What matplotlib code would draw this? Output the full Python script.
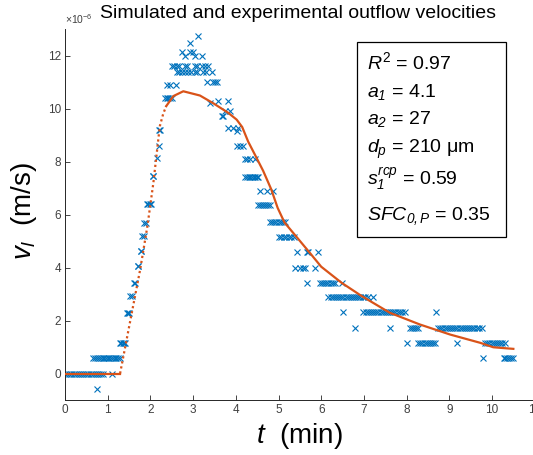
import numpy as np
import matplotlib
matplotlib.use('Agg')
import matplotlib.pyplot as plt
from matplotlib.patches import Rectangle

plt.rcParams['font.family'] = ['Liberation Sans', 'DejaVu Sans']
plt.rcParams['mathtext.fontset'] = 'custom'
plt.rcParams['mathtext.rm'] = 'Liberation Sans'
plt.rcParams['mathtext.it'] = 'Liberation Sans:italic'
plt.rcParams['mathtext.sf'] = 'Liberation Sans:italic'

# simulated outflow velocity (t in min, v in 1e-6 m/s)
t_sim = [0.0, 1.29, 1.52, 1.76, 1.93, 2.07, 2.15, 2.22, 2.30, 2.37, 2.54, 2.77,
         3.16, 3.47, 3.82, 4.02, 4.15, 4.29, 4.45, 4.64, 4.83, 4.98, 5.14, 5.43,
         5.72, 6.00, 6.48, 6.95, 7.61, 8.31, 9.02, 9.72, 10.03, 10.50]
v_sim = [0.0, 0.0, 1.92, 3.92, 5.56, 7.2, 8.33, 9.33, 9.8, 10.09, 10.47, 10.65,
         10.49, 10.2, 9.84, 9.58, 9.3, 8.75, 8.25, 7.65, 6.95, 6.25, 5.7, 5.14,
         4.58, 4.03, 3.42, 2.92, 2.29, 1.85, 1.47, 1.16, 0.99, 0.93]
i_dot0, i_dot1 = 1, 9   # steep part drawn as sparse dots

# experimental points, one list of times per measured level
exp_levels = [0.0, -0.58, 0.58, 1.16, 2.29, 2.92, 3.42, 4.05, 4.62, 5.18, 5.69,
              6.38, 7.45, 8.14, 8.6, 9.2, 10.4, 10.9, 11.37, 11.62, 12.0, 12.12,
              12.48, 12.75, 11.0, 10.28, 10.19, 9.9, 9.7, 9.25, 9.14, 8.6, 8.1,
              7.4, 6.9, 6.34, 5.7, 5.14, 4.6, 4.0, 3.42, 2.9, 2.31, 1.72, 1.16, 0.58]
exp_times = [
    [0.00, 0.05, 0.10, 0.15, 0.20, 0.25, 0.30, 0.35, 0.40, 0.45, 0.50, 0.55,
     0.60, 0.65, 0.70, 0.75, 0.80, 0.85, 0.90, 1.09],
    [0.74],
    [0.66, 0.71, 0.76, 0.80, 0.84, 0.88, 0.92, 0.96, 1.00, 1.04, 1.08, 1.12,
     1.16, 1.20, 1.24, 1.28],
    [1.29, 1.32, 1.35, 1.38, 1.41],
    [1.45, 1.48, 1.51],
    [1.53, 1.56],
    [1.62, 1.65],
    [1.70, 1.72],
    [1.77, 1.79],
    [1.80, 1.84],
    [1.86, 1.89],
    [1.92, 1.95, 1.98, 2.01],
    [2.05, 2.07],
    [2.15],
    [2.20],
    [2.19, 2.23],
    [2.34, 2.38, 2.42, 2.46, 2.50],
    [2.38, 2.46, 2.61],
    [2.62, 2.67, 2.73, 2.80, 2.89, 2.96, 3.04, 3.10, 3.24, 3.30, 3.44],
    [2.50, 2.55, 2.62, 2.66, 2.81, 2.86, 3.04, 3.10, 3.20, 3.27, 3.34],
    [2.81, 3.04, 3.20],
    [2.73, 2.93, 3.00],
    [2.93],
    [3.12],
    [3.32, 3.47, 3.51, 3.55],
    [3.59, 3.82],
    [3.40],
    [3.75, 3.86],
    [3.67, 3.71],
    [3.82, 3.94, 4.06],
    [4.02],
    [4.02, 4.10, 4.18],
    [4.22, 4.26, 4.33, 4.45],
    [4.22, 4.26, 4.30, 4.34, 4.38, 4.42, 4.46, 4.50, 4.53],
    [4.57, 4.72, 4.88],
    [4.53, 4.57, 4.62, 4.66, 4.71, 4.75, 4.80],
    [4.80, 4.85, 4.90, 4.95, 5.00, 5.05, 5.10, 5.15],
    [5.00, 5.06, 5.12, 5.18, 5.24, 5.30, 5.36],
    [5.43, 5.66, 5.70, 5.93],
    [5.39, 5.50, 5.58, 5.62, 5.85],
    [5.66, 5.97, 6.02, 6.07, 6.12, 6.17, 6.22, 6.27, 6.32, 6.48],
    [6.17, 6.22, 6.27, 6.32, 6.37, 6.42, 6.47, 6.52, 6.57, 6.62, 6.67, 6.72,
     6.77, 6.82, 6.87, 6.92, 6.97, 7.02, 7.10, 7.22],
    [6.52, 6.99, 7.04, 7.09, 7.14, 7.19, 7.24, 7.29, 7.34, 7.39, 7.44, 7.49,
     7.54, 7.59, 7.64, 7.69, 7.74, 7.79, 7.84, 7.89, 7.96, 8.70],
    [6.79, 7.61, 8.08, 8.13, 8.18, 8.23, 8.27, 8.74, 8.79, 8.84, 8.89, 8.94,
     8.99, 9.04, 9.09, 9.14, 9.19, 9.24, 9.29, 9.34, 9.39, 9.44, 9.49, 9.54,
     9.59, 9.64, 9.69, 9.76],
    [8.00, 8.27, 8.32, 8.37, 8.42, 8.47, 8.52, 8.57, 8.62, 8.67, 9.17, 9.84,
     9.89, 9.94, 9.99, 10.04, 10.09, 10.14, 10.19, 10.24, 10.30],
    [9.80, 10.27, 10.31, 10.35, 10.40, 10.45, 10.50],
]

t_exp = [t for lev, ts in zip(exp_levels, exp_times) for t in ts]
v_exp = [lev for lev, ts in zip(exp_levels, exp_times) for t in ts]

blue = '#0072BD'
orange = '#D95319'
grey = '#262626'

fig = plt.figure(figsize=(5.33, 4.55), dpi=100)
ax = fig.add_axes([65/533, 1-400/455, 469.7/533, 371/455])

ax.plot(t_exp, v_exp, 'x', color=blue, ms=4.5, mew=0.8, zorder=2)
ax.plot(t_sim[:i_dot0+1], v_sim[:i_dot0+1], '-', color=orange, lw=1.6, zorder=3)
ax.plot(t_sim[i_dot0:i_dot1+1], v_sim[i_dot0:i_dot1+1], color=orange, lw=1.6,
        ls=(0, (1, 1.3)), zorder=3)
ax.plot(t_sim[i_dot1:], v_sim[i_dot1:], '-', color=orange, lw=1.6, zorder=3)

ax.set_xlim(0, 11)
ax.set_ylim(-1, 13)
ax.set_xticks(range(0, 12))
ax.set_yticks(range(0, 13, 2))
ax.spines['top'].set_visible(False)
ax.spines['right'].set_visible(False)
for s in ('left', 'bottom'):
    ax.spines[s].set_color(grey)
    ax.spines[s].set_linewidth(0.7)
ax.tick_params(direction='in', length=3.5, width=0.6, labelsize=8.5,
               colors=grey, labelcolor='#404040', pad=3)

ax.text(0, 1.008, r'$\times$10$^{-6}$', transform=ax.transAxes, fontsize=7.5,
        color='#404040', ha='left', va='bottom')

fig.text(298/533, 1-14/455, 'Simulated and experimental outflow velocities',
         fontsize=14, ha='center', va='center', color='k')

ax.set_xlabel(r'$t$  (min)', fontsize=20)
ax.xaxis.set_label_coords(0.5, -0.056)
ax.set_ylabel(r'$v_l$  (m/s)', fontsize=20)
ax.yaxis.set_label_coords(-0.055, 0.51)

# parameter box
bx0, bx1 = (357-65)/469.7, (506-65)/469.7
by0, by1 = (400-237)/371, (400-42)/371
ax.add_patch(Rectangle((bx0, by0), bx1-bx0, by1-by0, transform=ax.transAxes,
                       facecolor='white', edgecolor='k', lw=0.9, zorder=5))
box_lines = [r'$R^2$ = 0.97',
             r'$a_{\mathsf{1}}$ = 4.1',
             r'$a_{\mathsf{2}}$ = 27',
             r'$d_p$ = 210 μm',
             r'$s_{\mathsf{1}}^{rcp}$ = 0.59',
             r'$SFC_{\mathsf{0,P}}$ = 0.35']
line_y = [69, 97, 124, 153, 185, 220]
for txt, yp in zip(box_lines, line_y):
    ax.text((367-65)/469.7, (400-yp)/371, txt, transform=ax.transAxes,
            fontsize=14, ha='left', va='baseline', zorder=6)

fig.savefig('out.png', dpi=100)
